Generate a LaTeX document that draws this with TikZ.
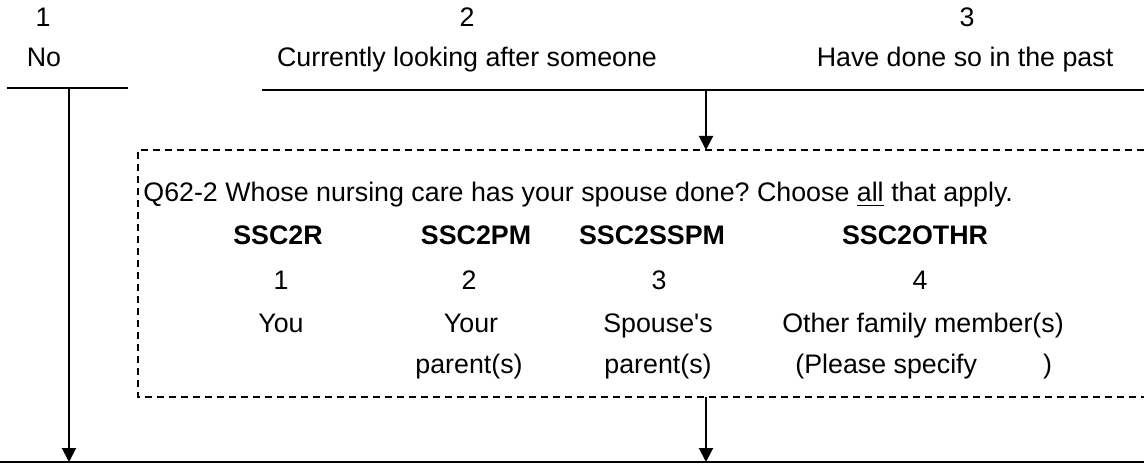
\documentclass[tikz,border=0pt]{standalone}
\usepackage{fontspec}
\setmainfont{Liberation Sans}[Ligatures=TeXOff]
\usetikzlibrary{arrows.meta}
\frenchspacing
\begin{document}
\begin{tikzpicture}[x=0.5pt,y=-0.5pt,
  txt/.style={inner sep=0pt, anchor=base, font=\fontsize{13.4}{16}\selectfont},
  hdr/.style={txt, font=\fontsize{13.4}{16}\selectfont\bfseries},
  rule/.style={line width=1pt},
  arr/.style={line width=1pt, -{Triangle[length=7pt,width=7pt]}},
  dbox/.style={line width=0.75pt, dash pattern=on 3.5pt off 2.5pt}]
\useasboundingbox (0,0) rectangle (1144,464);
% top answers
\node[txt] (n1) at (43,27) {1};
\node[txt] (no) at (44,67) {No};
\node[txt] (n2) at (467,27) {2};
\node[txt] (cur) at (467,67) {Currently looking after someone};
\node[txt] (n3) at (967,27) {3};
\node[txt] (past) at (965,67) {Have done so in the past};
% rules
\coordinate (l1a) at (7,88);
\coordinate (l1b) at (128,88);
\coordinate (l2a) at (262,90);
\coordinate (l2b) at (1144,90);
\coordinate (b0) at (0,462);
\coordinate (b1) at (1144,462);
\coordinate (v1top) at (69,88);
\coordinate (v1bot) at (69,462);
\coordinate (v2top) at (706,90);
\coordinate (v2bot) at (706,150);
\coordinate (v3top) at (706,397);
\coordinate (v3bot) at (706,462);
\coordinate (dtr) at (1144,150);
\coordinate (dtl) at (138,150);
\coordinate (dbl) at (138,397);
\coordinate (dbr) at (1144,397);
\draw[rule] (l1a) -- (l1b);
\draw[rule] (l2a) -- (l2b);
\draw[rule] (b0) -- (b1);
\draw[dbox] (dtr) -- (dtl) -- (dbl) -- (dbr);
\draw[arr] (v1top) -- (v1bot);
\draw[arr] (v2top) -- (v2bot);
\draw[arr] (v3top) -- (v3bot);
% question
\node[txt, anchor=base west] (q) at (143,202) {Q62-2 Whose nursing care has your spouse done? Choose \underline{all} that apply.};
\node[hdr] (h1) at (278,245) {SSC2R};
\node[hdr] (h2) at (476,245) {SSC2PM};
\node[hdr] (h3) at (652,245) {SSC2SSPM};
\node[hdr] (h4) at (915,245) {SSC2OTHR};
\node[txt] (c1) at (281,290) {1};
\node[txt] (c2) at (469,290) {2};
\node[txt] (c3) at (659,290) {3};
\node[txt] (c4) at (920,290) {4};
\node[txt] (a1) at (281,333) {You};
\node[txt] (a2) at (471,333) {Your};
\node[txt] (a3) at (658,333) {Spouse's};
\node[txt] (a4) at (923,333) {Other family member(s)};
\node[txt] (b2) at (469,373) {parent(s)};
\node[txt] (b3) at (658,373) {parent(s)};
\node[txt, anchor=base west] (b4) at (795,373) {(Please specify\hspace{33pt})};
\end{tikzpicture}
\end{document}
